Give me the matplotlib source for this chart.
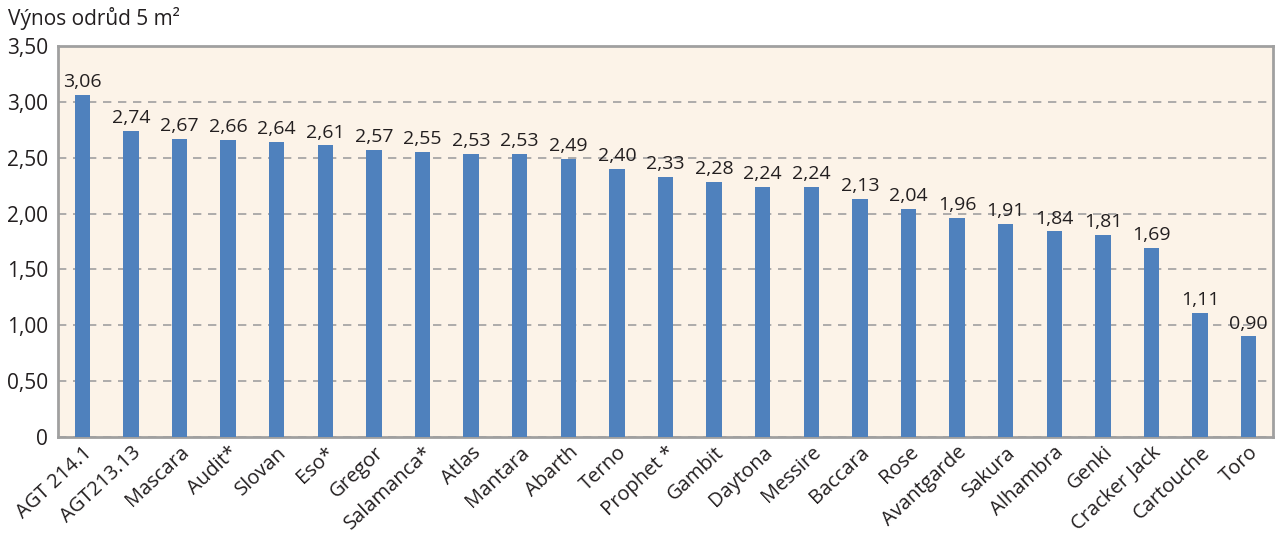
import numpy as np
from matplotlib import pyplot as plt

odrudy = ['AGT 214.1', 'AGT213.13', 'Mascara', 'Audit*', 'Slovan', 'Eso*', 'Gregor',
          'Salamanca*', 'Atlas', 'Mantara', 'Abarth', 'Terno', 'Prophet *', 'Gambit',
          'Daytona', 'Messire', 'Baccara', 'Rose', 'Avantgarde', 'Sakura', 'Alhambra',
          'Genki', 'Cracker Jack', 'Cartouche', 'Toro']
vynos = [3.06, 2.74, 2.67, 2.66, 2.64, 2.61, 2.57, 2.55, 2.53, 2.53, 2.49, 2.40, 2.33,
         2.28, 2.24, 2.24, 2.13, 2.04, 1.96, 1.91, 1.84, 1.81, 1.69, 1.11, 0.90]
yticks = [0, 0.5, 1.0, 1.5, 2.0, 2.5, 3.0, 3.5]

plt.rcParams['font.family'] = ['Open Sans', 'DejaVu Sans']

fig = plt.figure(figsize=(12.8, 5.37), dpi=100)
ax = fig.add_axes([58/1280, 1 - 437/537, (1273-58)/1280, (437-46)/537])
ax.set_facecolor('#fcf3e8')

x = np.arange(len(odrudy))
ax.bar(x, vynos, width=0.32, color='#4f81bd', zorder=3)
for xi, v in zip(x, vynos):
    ax.text(xi, v + 0.035, f'{v:.2f}'.replace('.', ','), ha='center', va='bottom',
            fontsize=14, color='#231f20', zorder=4)

ax.set_xlim(-0.5, len(odrudy) - 0.5)
ax.set_ylim(0, 3.5)
ax.set_yticks(yticks)
ax.set_yticklabels(['0' if t == 0 else f'{t:.2f}'.replace('.', ',') for t in yticks],
                   fontsize=15, color='#231f20')
ax.set_xticks(x)
ax.set_xticklabels(odrudy, rotation=43, ha='right', rotation_mode='anchor',
                   fontsize=14.5, color='#231f20')
ax.tick_params(axis='both', length=0, pad=7)
ax.tick_params(axis='x', pad=4)
ax.yaxis.grid(True, linestyle=(0, (5, 4)), color='#a0a0a0', linewidth=1.2, zorder=1)
for s in ax.spines.values():
    s.set_color('#a0a0a0')
    s.set_linewidth(2)

fig.text(8/1280, 1 - 18/537, 'Výnos odrůd 5 m²', fontsize=15, color='#231f20',
         ha='left', va='center')

fig.savefig('out.png', dpi=100)
